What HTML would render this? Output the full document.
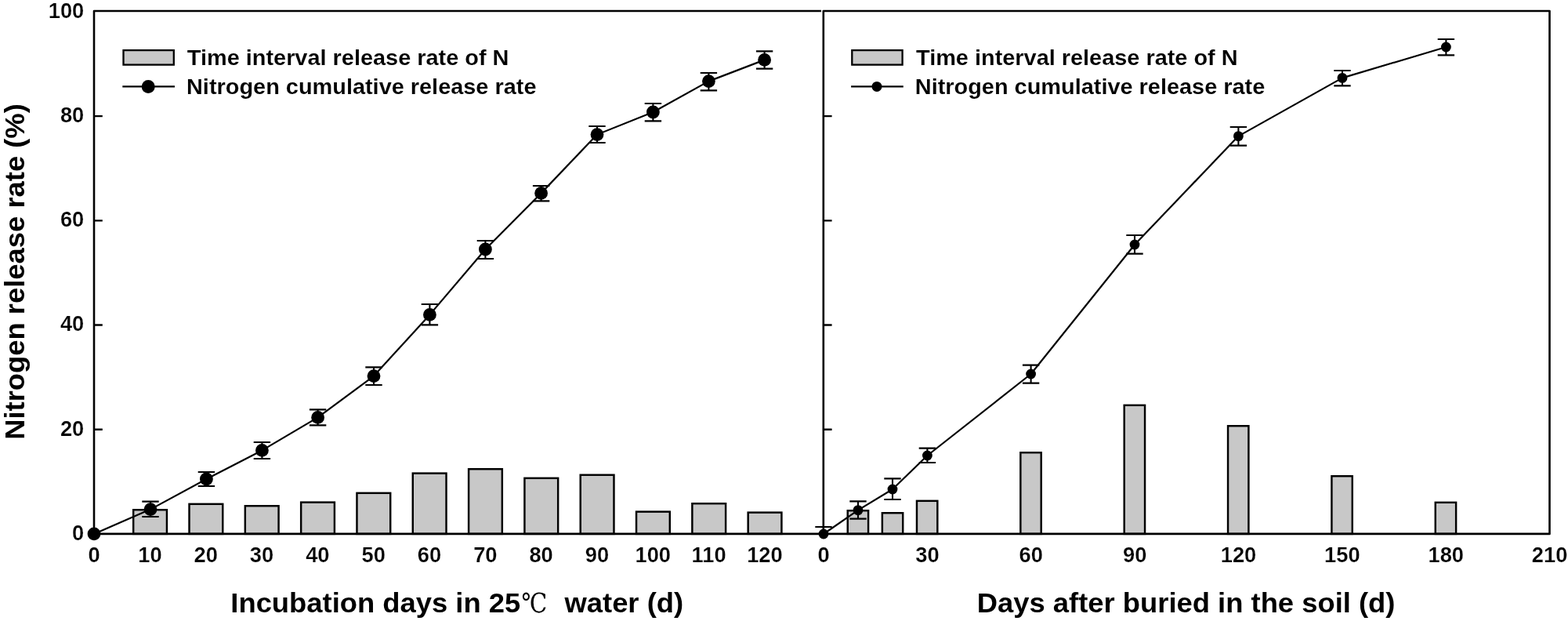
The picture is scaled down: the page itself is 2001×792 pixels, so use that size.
<!DOCTYPE html>
<html lang="en"><head><meta charset="utf-8"><title>Nitrogen release rate</title>
<style>html,body{margin:0;padding:0;background:#fff}body{width:2001px;height:792px;overflow:hidden}svg{display:block}text{font-family:"Liberation Sans",sans-serif;fill:#000}.tk{font-size:27.3px;font-weight:bold;stroke:#fff;stroke-width:.22px;stroke-linejoin:round}.lg{font-size:28.9px;font-weight:bold;stroke:#fff;stroke-width:.1px;stroke-linejoin:round}.ax{font-size:36.4px;font-weight:bold}.cj{font-family:"Liberation Serif","DejaVu Serif","Noto Serif CJK SC",serif;font-size:34.5px;font-weight:normal}</style></head><body>
<svg width="2001" height="792" viewBox="0 0 2001 792">
<rect width="2001" height="792" fill="#fff"/>
<g fill="#c8c8c8" stroke="#000" stroke-width="2.45">
<rect x="170.19" y="650.23" width="42.75" height="30.67"/>
<rect x="241.51" y="642.83" width="42.75" height="38.07"/>
<rect x="312.82" y="645.23" width="42.75" height="35.67"/>
<rect x="384.14" y="640.62" width="42.75" height="40.27"/>
<rect x="455.46" y="628.83" width="42.75" height="52.07"/>
<rect x="526.77" y="603.62" width="42.75" height="77.27"/>
<rect x="598.09" y="598.23" width="42.75" height="82.67"/>
<rect x="669.41" y="609.83" width="42.75" height="71.07"/>
<rect x="740.72" y="605.73" width="42.75" height="75.17"/>
<rect x="812.04" y="652.62" width="42.75" height="28.27"/>
<rect x="883.36" y="642.23" width="42.75" height="38.67"/>
<rect x="954.67" y="653.62" width="42.75" height="27.27"/>
<rect x="1081.74" y="651.23" width="26.35" height="29.67"/>
<rect x="1125.86" y="654.23" width="26.35" height="26.67"/>
<rect x="1169.98" y="638.83" width="26.35" height="42.07"/>
<rect x="1302.34" y="577.23" width="26.35" height="103.67"/>
<rect x="1434.7" y="516.83" width="26.35" height="164.07"/>
<rect x="1567.05" y="543.23" width="26.35" height="137.67"/>
<rect x="1699.41" y="607.23" width="26.35" height="73.67"/>
<rect x="1831.77" y="640.83" width="26.35" height="40.07"/>
</g>
<g fill="none" stroke="#000" stroke-width="2.6" stroke-linejoin="round" stroke-linecap="butt">
<path d="M120 680.9V14H1048"/>
<path d="M118.7 680.9H1977.5V14H1050.8V680.9"/>
<path stroke-width="2.3" d="M120 547.76h10.8M1050.8 547.76h10.8"/>
<path stroke-width="2.3" d="M120 414.52h10.8M1050.8 414.52h10.8"/>
<path stroke-width="2.3" d="M120 281.28h10.8M1050.8 281.28h10.8"/>
<path stroke-width="2.3" d="M120 148.04h10.8M1050.8 148.04h10.8"/>
</g>
<g fill="none" stroke="#000" stroke-width="2.2" stroke-linejoin="round">
<polyline points="120,680.9 192,649.6 263.4,611 334.4,574.4 405.6,532.4 477,479.6 548.4,401.4 619.4,318 690.6,246.4 762,171.6 833.4,143 904.4,103.6 975.6,76.4"/>
<polyline points="1051,681 1095,650.6 1139,624 1183.4,581 1315.6,477 1448,312 1580.4,173.6 1713,99.4 1845.4,60"/>
</g>
<g fill="none" stroke="#000" stroke-width="2.1">
<path d="M192 639.6V659M181.3 639.6h21.4M181.3 659h21.4"/>
<path d="M263.4 602V620M252.7 602h21.4M252.7 620h21.4"/>
<path d="M334.4 564V585M323.7 564h21.4M323.7 585h21.4"/>
<path d="M405.6 522.4V542.4M394.9 522.4h21.4M394.9 542.4h21.4"/>
<path d="M477 468.4V491M466.3 468.4h21.4M466.3 491h21.4"/>
<path d="M548.4 388V414.4M537.7 388h21.4M537.7 414.4h21.4"/>
<path d="M619.4 307V330M608.7 307h21.4M608.7 330h21.4"/>
<path d="M690.6 237V256.4M679.9 237h21.4M679.9 256.4h21.4"/>
<path d="M762 161V182M751.3 161h21.4M751.3 182h21.4"/>
<path d="M833.4 132V154.4M822.7 132h21.4M822.7 154.4h21.4"/>
<path d="M904.4 93V115.4M893.7 93h21.4M893.7 115.4h21.4"/>
<path d="M975.6 65.4V87.6M964.9 65.4h21.4M964.9 87.6h21.4"/>
<path d="M1051 672V681M1040.3 672h21.4"/>
<path d="M1095 639.4V661.6M1084.3 639.4h21.4M1084.3 661.6h21.4"/>
<path d="M1139 610.4V637M1128.3 610.4h21.4M1128.3 637h21.4"/>
<path d="M1183.4 571.6V590M1172.7 571.6h21.4M1172.7 590h21.4"/>
<path d="M1315.6 465.6V488.6M1304.9 465.6h21.4M1304.9 488.6h21.4"/>
<path d="M1448 300V323.6M1437.3 300h21.4M1437.3 323.6h21.4"/>
<path d="M1580.4 162V185.6M1569.7 162h21.4M1569.7 185.6h21.4"/>
<path d="M1713 90V109.4M1702.3 90h21.4M1702.3 109.4h21.4"/>
<path d="M1845.4 50V70.4M1834.7 50h21.4M1834.7 70.4h21.4"/>
</g>
<g fill="#000">
<circle cx="120" cy="680.9" r="8.4"/>
<circle cx="192" cy="649.6" r="8.4"/>
<circle cx="263.4" cy="611" r="8.4"/>
<circle cx="334.4" cy="574.4" r="8.4"/>
<circle cx="405.6" cy="532.4" r="8.4"/>
<circle cx="477" cy="479.6" r="8.4"/>
<circle cx="548.4" cy="401.4" r="8.4"/>
<circle cx="619.4" cy="318" r="8.4"/>
<circle cx="690.6" cy="246.4" r="8.4"/>
<circle cx="762" cy="171.6" r="8.4"/>
<circle cx="833.4" cy="143" r="8.4"/>
<circle cx="904.4" cy="103.6" r="8.4"/>
<circle cx="975.6" cy="76.4" r="8.4"/>
<circle cx="1051" cy="681" r="6.4"/>
<circle cx="1095" cy="650.6" r="6.4"/>
<circle cx="1139" cy="624" r="6.4"/>
<circle cx="1183.4" cy="581" r="6.4"/>
<circle cx="1315.6" cy="477" r="6.4"/>
<circle cx="1448" cy="312" r="6.4"/>
<circle cx="1580.4" cy="173.6" r="6.4"/>
<circle cx="1713" cy="99.4" r="6.4"/>
<circle cx="1845.4" cy="60" r="6.4"/>
</g>
<rect x="157.5" y="64.1" width="64.3" height="18.5" fill="#c8c8c8" stroke="#000" stroke-width="2.3"/>
<path d="M156.3 110.4H223" stroke="#000" stroke-width="2.2" fill="none"/>
<circle cx="189.2" cy="110.4" r="8.5" fill="#000"/>
<rect x="1087.3" y="64.1" width="64.3" height="18.5" fill="#c8c8c8" stroke="#000" stroke-width="2.3"/>
<path d="M1086.1 110.4H1152.8" stroke="#000" stroke-width="2.2" fill="none"/>
<circle cx="1119" cy="110.4" r="6.5" fill="#000"/>
<text class="lg" transform="translate(238.8 82.7) scale(1 .98)">Time interval release rate of N</text>
<text class="lg" transform="translate(238 120.4) scale(1 .98)">Nitrogen cumulative release rate</text>
<text class="lg" transform="translate(1169 82.7) scale(1 .98)">Time interval release rate of N</text>
<text class="lg" transform="translate(1167.8 120.4) scale(1 .98)">Nitrogen cumulative release rate</text>
<g class="tk">
<text x="107.3" y="689.2" text-anchor="end">0</text>
<text x="107.3" y="555.82" text-anchor="end">20</text>
<text x="107.3" y="422.44" text-anchor="end">40</text>
<text x="107.3" y="289.06" text-anchor="end">60</text>
<text x="107.3" y="155.68" text-anchor="end">80</text>
<text x="107.3" y="22.7" text-anchor="end">100</text>
<text x="120.1" y="717.3" text-anchor="middle">0</text>
<text x="191.42" y="717.3" text-anchor="middle">10</text>
<text x="262.73" y="717.3" text-anchor="middle">20</text>
<text x="334.05" y="717.3" text-anchor="middle">30</text>
<text x="405.37" y="717.3" text-anchor="middle">40</text>
<text x="476.68" y="717.3" text-anchor="middle">50</text>
<text x="548" y="717.3" text-anchor="middle">60</text>
<text x="619.32" y="717.3" text-anchor="middle">70</text>
<text x="690.63" y="717.3" text-anchor="middle">80</text>
<text x="761.95" y="717.3" text-anchor="middle">90</text>
<text x="833.27" y="717.3" text-anchor="middle">100</text>
<text x="904.58" y="717.3" text-anchor="middle">110</text>
<text x="975.9" y="717.3" text-anchor="middle">120</text>
<text x="1051.1" y="717.3" text-anchor="middle">0</text>
<text x="1183.46" y="717.3" text-anchor="middle">30</text>
<text x="1315.81" y="717.3" text-anchor="middle">60</text>
<text x="1448.17" y="717.3" text-anchor="middle">90</text>
<text x="1580.53" y="717.3" text-anchor="middle">120</text>
<text x="1712.89" y="717.3" text-anchor="middle">150</text>
<text x="1845.24" y="717.3" text-anchor="middle">180</text>
<text x="1977.6" y="717.3" text-anchor="middle">210</text>
</g>
<text class="ax" transform="translate(294.3 781.3) scale(1 .98)">Incubation days in 25</text><text class="cj" transform="translate(665.6 781) scale(.85 1)">℃</text><text class="ax" transform="translate(720.5 781.3) scale(1 .98)">water (d)</text>
<text class="ax" transform="translate(1246.8 781.3) scale(1 .98)">Days after buried in the soil (d)</text>
<text class="ax" transform="translate(31.3 560.8) rotate(-90) scale(1 .98)">Nitrogen release rate (%)</text>
</svg></body></html>
